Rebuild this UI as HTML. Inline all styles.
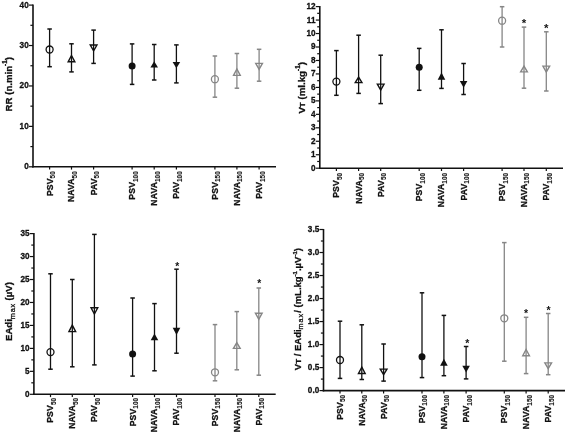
<!DOCTYPE html>
<html><head><meta charset="utf-8"><style>
html,body{margin:0;padding:0;background:#fff;width:567px;height:434px;overflow:hidden;}
svg{display:block;will-change:transform;filter:blur(0.3px);}
text{stroke:#111;stroke-width:0.3px;}
</style></head><body>
<svg width="567" height="434" viewBox="0 0 567 434" font-family='"Liberation Sans", sans-serif' fill="#111">
<rect width="567" height="434" fill="#fff"/>
<line x1="33.00" y1="4.60" x2="33.00" y2="167.60" stroke="#111" stroke-width="1.6"/>
<line x1="32.20" y1="166.80" x2="276.00" y2="166.80" stroke="#111" stroke-width="1.6"/>
<line x1="29.00" y1="166.80" x2="33.00" y2="166.80" stroke="#111" stroke-width="1.2"/>
<line x1="29.00" y1="126.38" x2="33.00" y2="126.38" stroke="#111" stroke-width="1.2"/>
<line x1="29.00" y1="85.95" x2="33.00" y2="85.95" stroke="#111" stroke-width="1.2"/>
<line x1="29.00" y1="45.53" x2="33.00" y2="45.53" stroke="#111" stroke-width="1.2"/>
<line x1="29.00" y1="5.10" x2="33.00" y2="5.10" stroke="#111" stroke-width="1.2"/>
<line x1="30.40" y1="146.59" x2="33.00" y2="146.59" stroke="#111" stroke-width="1.2"/>
<line x1="30.40" y1="106.16" x2="33.00" y2="106.16" stroke="#111" stroke-width="1.2"/>
<line x1="30.40" y1="65.74" x2="33.00" y2="65.74" stroke="#111" stroke-width="1.2"/>
<line x1="30.40" y1="25.31" x2="33.00" y2="25.31" stroke="#111" stroke-width="1.2"/>
<line x1="49.60" y1="166.80" x2="49.60" y2="169.60" stroke="#111" stroke-width="1.2"/>
<line x1="71.50" y1="166.80" x2="71.50" y2="169.60" stroke="#111" stroke-width="1.2"/>
<line x1="93.60" y1="166.80" x2="93.60" y2="169.60" stroke="#111" stroke-width="1.2"/>
<line x1="132.10" y1="166.80" x2="132.10" y2="169.60" stroke="#111" stroke-width="1.2"/>
<line x1="154.20" y1="166.80" x2="154.20" y2="169.60" stroke="#111" stroke-width="1.2"/>
<line x1="176.40" y1="166.80" x2="176.40" y2="169.60" stroke="#111" stroke-width="1.2"/>
<line x1="214.90" y1="166.80" x2="214.90" y2="169.60" stroke="#111" stroke-width="1.2"/>
<line x1="236.90" y1="166.80" x2="236.90" y2="169.60" stroke="#111" stroke-width="1.2"/>
<line x1="259.10" y1="166.80" x2="259.10" y2="169.60" stroke="#111" stroke-width="1.2"/>
<text transform="translate(28.70,169.25) scale(0.94,1)" text-anchor="end" font-size="8.7" font-weight="bold">0</text>
<text transform="translate(28.70,128.82) scale(0.94,1)" text-anchor="end" font-size="8.7" font-weight="bold">10</text>
<text transform="translate(28.70,88.40) scale(0.94,1)" text-anchor="end" font-size="8.7" font-weight="bold">20</text>
<text transform="translate(28.70,47.98) scale(0.94,1)" text-anchor="end" font-size="8.7" font-weight="bold">30</text>
<text transform="translate(28.70,7.55) scale(0.94,1)" text-anchor="end" font-size="8.7" font-weight="bold">40</text>
<line x1="49.60" y1="29.00" x2="49.60" y2="66.70" stroke="#111" stroke-width="1.3"/>
<line x1="47.35" y1="29.00" x2="51.85" y2="29.00" stroke="#111" stroke-width="1.5"/>
<line x1="47.35" y1="66.70" x2="51.85" y2="66.70" stroke="#111" stroke-width="1.5"/>
<circle cx="49.60" cy="49.50" r="3.5" fill="none" stroke="#111" stroke-width="1.3"/>
<line x1="71.50" y1="43.80" x2="71.50" y2="71.90" stroke="#111" stroke-width="1.3"/>
<line x1="69.25" y1="43.80" x2="73.75" y2="43.80" stroke="#111" stroke-width="1.5"/>
<line x1="69.25" y1="71.90" x2="73.75" y2="71.90" stroke="#111" stroke-width="1.5"/>
<path d="M71.50,55.50 L74.85,61.80 L68.15,61.80 Z" fill="none" stroke="#111" stroke-width="1.4"/>
<line x1="93.60" y1="30.10" x2="93.60" y2="63.40" stroke="#111" stroke-width="1.3"/>
<line x1="91.35" y1="30.10" x2="95.85" y2="30.10" stroke="#111" stroke-width="1.5"/>
<line x1="91.35" y1="63.40" x2="95.85" y2="63.40" stroke="#111" stroke-width="1.5"/>
<path d="M90.25,45.00 L96.95,45.00 L93.60,50.80 Z" fill="none" stroke="#111" stroke-width="1.4"/>
<line x1="132.10" y1="43.90" x2="132.10" y2="84.40" stroke="#111" stroke-width="1.3"/>
<line x1="129.85" y1="43.90" x2="134.35" y2="43.90" stroke="#111" stroke-width="1.5"/>
<line x1="129.85" y1="84.40" x2="134.35" y2="84.40" stroke="#111" stroke-width="1.5"/>
<circle cx="132.10" cy="66.00" r="3.5" fill="#111"/>
<line x1="154.20" y1="44.50" x2="154.20" y2="80.00" stroke="#111" stroke-width="1.3"/>
<line x1="151.95" y1="44.50" x2="156.45" y2="44.50" stroke="#111" stroke-width="1.5"/>
<line x1="151.95" y1="80.00" x2="156.45" y2="80.00" stroke="#111" stroke-width="1.5"/>
<path d="M154.20,61.20 L158.00,67.50 L150.40,67.50 Z" fill="#111"/>
<line x1="176.40" y1="44.90" x2="176.40" y2="82.90" stroke="#111" stroke-width="1.3"/>
<line x1="174.15" y1="44.90" x2="178.65" y2="44.90" stroke="#111" stroke-width="1.5"/>
<line x1="174.15" y1="82.90" x2="178.65" y2="82.90" stroke="#111" stroke-width="1.5"/>
<path d="M172.60,62.00 L180.20,62.00 L176.40,68.30 Z" fill="#111"/>
<line x1="214.90" y1="56.00" x2="214.90" y2="97.20" stroke="#868686" stroke-width="1.3"/>
<line x1="212.65" y1="56.00" x2="217.15" y2="56.00" stroke="#868686" stroke-width="1.5"/>
<line x1="212.65" y1="97.20" x2="217.15" y2="97.20" stroke="#868686" stroke-width="1.5"/>
<circle cx="214.90" cy="79.20" r="3.5" fill="none" stroke="#868686" stroke-width="1.3"/>
<line x1="236.90" y1="53.50" x2="236.90" y2="88.20" stroke="#868686" stroke-width="1.3"/>
<line x1="234.65" y1="53.50" x2="239.15" y2="53.50" stroke="#868686" stroke-width="1.5"/>
<line x1="234.65" y1="88.20" x2="239.15" y2="88.20" stroke="#868686" stroke-width="1.5"/>
<path d="M236.90,69.00 L240.25,75.40 L233.55,75.40 Z" fill="none" stroke="#868686" stroke-width="1.4"/>
<line x1="259.10" y1="49.30" x2="259.10" y2="81.20" stroke="#868686" stroke-width="1.3"/>
<line x1="256.85" y1="49.30" x2="261.35" y2="49.30" stroke="#868686" stroke-width="1.5"/>
<line x1="256.85" y1="81.20" x2="261.35" y2="81.20" stroke="#868686" stroke-width="1.5"/>
<path d="M255.75,63.40 L262.45,63.40 L259.10,69.40 Z" fill="none" stroke="#868686" stroke-width="1.4"/>
<text transform="translate(52.50,171.30) rotate(-90)" text-anchor="end" font-size="8.6" font-weight="bold" stroke="#111" stroke-width="0.3" letter-spacing="0.15">PSV<tspan font-size="6.4" dy="2.5" letter-spacing="0" style="stroke-width:0.1px">50</tspan></text>
<text transform="translate(74.40,171.30) rotate(-90)" text-anchor="end" font-size="8.6" font-weight="bold" stroke="#111" stroke-width="0.3" letter-spacing="0.15">NAVA<tspan font-size="6.4" dy="2.5" letter-spacing="0" style="stroke-width:0.1px">50</tspan></text>
<text transform="translate(96.50,171.30) rotate(-90)" text-anchor="end" font-size="8.6" font-weight="bold" stroke="#111" stroke-width="0.3" letter-spacing="0.15">PAV<tspan font-size="6.4" dy="2.5" letter-spacing="0" style="stroke-width:0.1px">50</tspan></text>
<text transform="translate(135.00,171.30) rotate(-90)" text-anchor="end" font-size="8.6" font-weight="bold" stroke="#111" stroke-width="0.3" letter-spacing="0.15">PSV<tspan font-size="6.4" dy="2.5" letter-spacing="0" style="stroke-width:0.1px">100</tspan></text>
<text transform="translate(157.10,171.30) rotate(-90)" text-anchor="end" font-size="8.6" font-weight="bold" stroke="#111" stroke-width="0.3" letter-spacing="0.15">NAVA<tspan font-size="6.4" dy="2.5" letter-spacing="0" style="stroke-width:0.1px">100</tspan></text>
<text transform="translate(179.30,171.30) rotate(-90)" text-anchor="end" font-size="8.6" font-weight="bold" stroke="#111" stroke-width="0.3" letter-spacing="0.15">PAV<tspan font-size="6.4" dy="2.5" letter-spacing="0" style="stroke-width:0.1px">100</tspan></text>
<text transform="translate(217.80,171.30) rotate(-90)" text-anchor="end" font-size="8.6" font-weight="bold" stroke="#111" stroke-width="0.3" letter-spacing="0.15">PSV<tspan font-size="6.4" dy="2.5" letter-spacing="0" style="stroke-width:0.1px">150</tspan></text>
<text transform="translate(239.80,171.30) rotate(-90)" text-anchor="end" font-size="8.6" font-weight="bold" stroke="#111" stroke-width="0.3" letter-spacing="0.15">NAVA<tspan font-size="6.4" dy="2.5" letter-spacing="0" style="stroke-width:0.1px">150</tspan></text>
<text transform="translate(262.00,171.30) rotate(-90)" text-anchor="end" font-size="8.6" font-weight="bold" stroke="#111" stroke-width="0.3" letter-spacing="0.15">PAV<tspan font-size="6.4" dy="2.5" letter-spacing="0" style="stroke-width:0.1px">150</tspan></text>
<line x1="319.80" y1="6.10" x2="319.80" y2="169.00" stroke="#111" stroke-width="1.6"/>
<line x1="319.00" y1="168.20" x2="563.00" y2="168.20" stroke="#111" stroke-width="1.6"/>
<line x1="315.80" y1="168.20" x2="319.80" y2="168.20" stroke="#111" stroke-width="1.2"/>
<line x1="315.80" y1="154.73" x2="319.80" y2="154.73" stroke="#111" stroke-width="1.2"/>
<line x1="315.80" y1="141.27" x2="319.80" y2="141.27" stroke="#111" stroke-width="1.2"/>
<line x1="315.80" y1="127.80" x2="319.80" y2="127.80" stroke="#111" stroke-width="1.2"/>
<line x1="315.80" y1="114.33" x2="319.80" y2="114.33" stroke="#111" stroke-width="1.2"/>
<line x1="315.80" y1="100.87" x2="319.80" y2="100.87" stroke="#111" stroke-width="1.2"/>
<line x1="315.80" y1="87.40" x2="319.80" y2="87.40" stroke="#111" stroke-width="1.2"/>
<line x1="315.80" y1="73.93" x2="319.80" y2="73.93" stroke="#111" stroke-width="1.2"/>
<line x1="315.80" y1="60.47" x2="319.80" y2="60.47" stroke="#111" stroke-width="1.2"/>
<line x1="315.80" y1="47.00" x2="319.80" y2="47.00" stroke="#111" stroke-width="1.2"/>
<line x1="315.80" y1="33.53" x2="319.80" y2="33.53" stroke="#111" stroke-width="1.2"/>
<line x1="315.80" y1="20.07" x2="319.80" y2="20.07" stroke="#111" stroke-width="1.2"/>
<line x1="315.80" y1="6.60" x2="319.80" y2="6.60" stroke="#111" stroke-width="1.2"/>
<line x1="317.20" y1="161.47" x2="319.80" y2="161.47" stroke="#111" stroke-width="1.2"/>
<line x1="317.20" y1="148.00" x2="319.80" y2="148.00" stroke="#111" stroke-width="1.2"/>
<line x1="317.20" y1="134.53" x2="319.80" y2="134.53" stroke="#111" stroke-width="1.2"/>
<line x1="317.20" y1="121.07" x2="319.80" y2="121.07" stroke="#111" stroke-width="1.2"/>
<line x1="317.20" y1="107.60" x2="319.80" y2="107.60" stroke="#111" stroke-width="1.2"/>
<line x1="317.20" y1="94.13" x2="319.80" y2="94.13" stroke="#111" stroke-width="1.2"/>
<line x1="317.20" y1="80.67" x2="319.80" y2="80.67" stroke="#111" stroke-width="1.2"/>
<line x1="317.20" y1="67.20" x2="319.80" y2="67.20" stroke="#111" stroke-width="1.2"/>
<line x1="317.20" y1="53.73" x2="319.80" y2="53.73" stroke="#111" stroke-width="1.2"/>
<line x1="317.20" y1="40.27" x2="319.80" y2="40.27" stroke="#111" stroke-width="1.2"/>
<line x1="317.20" y1="26.80" x2="319.80" y2="26.80" stroke="#111" stroke-width="1.2"/>
<line x1="317.20" y1="13.33" x2="319.80" y2="13.33" stroke="#111" stroke-width="1.2"/>
<line x1="336.40" y1="168.20" x2="336.40" y2="171.00" stroke="#111" stroke-width="1.2"/>
<line x1="358.60" y1="168.20" x2="358.60" y2="171.00" stroke="#111" stroke-width="1.2"/>
<line x1="380.70" y1="168.20" x2="380.70" y2="171.00" stroke="#111" stroke-width="1.2"/>
<line x1="419.20" y1="168.20" x2="419.20" y2="171.00" stroke="#111" stroke-width="1.2"/>
<line x1="441.50" y1="168.20" x2="441.50" y2="171.00" stroke="#111" stroke-width="1.2"/>
<line x1="463.60" y1="168.20" x2="463.60" y2="171.00" stroke="#111" stroke-width="1.2"/>
<line x1="502.10" y1="168.20" x2="502.10" y2="171.00" stroke="#111" stroke-width="1.2"/>
<line x1="524.00" y1="168.20" x2="524.00" y2="171.00" stroke="#111" stroke-width="1.2"/>
<line x1="546.30" y1="168.20" x2="546.30" y2="171.00" stroke="#111" stroke-width="1.2"/>
<text transform="translate(315.50,170.65) scale(0.94,1)" text-anchor="end" font-size="8.7" font-weight="bold">0</text>
<text transform="translate(315.50,157.18) scale(0.94,1)" text-anchor="end" font-size="8.7" font-weight="bold">1</text>
<text transform="translate(315.50,143.72) scale(0.94,1)" text-anchor="end" font-size="8.7" font-weight="bold">2</text>
<text transform="translate(315.50,130.25) scale(0.94,1)" text-anchor="end" font-size="8.7" font-weight="bold">3</text>
<text transform="translate(315.50,116.78) scale(0.94,1)" text-anchor="end" font-size="8.7" font-weight="bold">4</text>
<text transform="translate(315.50,103.32) scale(0.94,1)" text-anchor="end" font-size="8.7" font-weight="bold">5</text>
<text transform="translate(315.50,89.85) scale(0.94,1)" text-anchor="end" font-size="8.7" font-weight="bold">6</text>
<text transform="translate(315.50,76.38) scale(0.94,1)" text-anchor="end" font-size="8.7" font-weight="bold">7</text>
<text transform="translate(315.50,62.92) scale(0.94,1)" text-anchor="end" font-size="8.7" font-weight="bold">8</text>
<text transform="translate(315.50,49.45) scale(0.94,1)" text-anchor="end" font-size="8.7" font-weight="bold">9</text>
<text transform="translate(315.50,35.98) scale(0.94,1)" text-anchor="end" font-size="8.7" font-weight="bold">10</text>
<text transform="translate(315.50,22.52) scale(0.94,1)" text-anchor="end" font-size="8.7" font-weight="bold">11</text>
<text transform="translate(315.50,9.05) scale(0.94,1)" text-anchor="end" font-size="8.7" font-weight="bold">12</text>
<line x1="336.40" y1="50.60" x2="336.40" y2="95.30" stroke="#111" stroke-width="1.3"/>
<line x1="334.15" y1="50.60" x2="338.65" y2="50.60" stroke="#111" stroke-width="1.5"/>
<line x1="334.15" y1="95.30" x2="338.65" y2="95.30" stroke="#111" stroke-width="1.5"/>
<circle cx="336.40" cy="81.60" r="3.5" fill="none" stroke="#111" stroke-width="1.3"/>
<line x1="358.60" y1="35.20" x2="358.60" y2="93.40" stroke="#111" stroke-width="1.3"/>
<line x1="356.35" y1="35.20" x2="360.85" y2="35.20" stroke="#111" stroke-width="1.5"/>
<line x1="356.35" y1="93.40" x2="360.85" y2="93.40" stroke="#111" stroke-width="1.5"/>
<path d="M358.60,77.10 L361.95,82.60 L355.25,82.60 Z" fill="none" stroke="#111" stroke-width="1.4"/>
<line x1="380.70" y1="55.20" x2="380.70" y2="103.60" stroke="#111" stroke-width="1.3"/>
<line x1="378.45" y1="55.20" x2="382.95" y2="55.20" stroke="#111" stroke-width="1.5"/>
<line x1="378.45" y1="103.60" x2="382.95" y2="103.60" stroke="#111" stroke-width="1.5"/>
<path d="M377.35,84.10 L384.05,84.10 L380.70,90.10 Z" fill="none" stroke="#111" stroke-width="1.4"/>
<line x1="419.20" y1="48.40" x2="419.20" y2="90.30" stroke="#111" stroke-width="1.3"/>
<line x1="416.95" y1="48.40" x2="421.45" y2="48.40" stroke="#111" stroke-width="1.5"/>
<line x1="416.95" y1="90.30" x2="421.45" y2="90.30" stroke="#111" stroke-width="1.5"/>
<circle cx="419.20" cy="67.30" r="3.5" fill="#111"/>
<line x1="441.50" y1="29.80" x2="441.50" y2="88.40" stroke="#111" stroke-width="1.3"/>
<line x1="439.25" y1="29.80" x2="443.75" y2="29.80" stroke="#111" stroke-width="1.5"/>
<line x1="439.25" y1="88.40" x2="443.75" y2="88.40" stroke="#111" stroke-width="1.5"/>
<path d="M441.50,72.40 L445.30,79.70 L437.70,79.70 Z" fill="#111"/>
<line x1="463.60" y1="63.50" x2="463.60" y2="94.50" stroke="#111" stroke-width="1.3"/>
<line x1="461.35" y1="63.50" x2="465.85" y2="63.50" stroke="#111" stroke-width="1.5"/>
<line x1="461.35" y1="94.50" x2="465.85" y2="94.50" stroke="#111" stroke-width="1.5"/>
<path d="M459.80,80.90 L467.40,80.90 L463.60,87.70 Z" fill="#111"/>
<line x1="502.10" y1="6.70" x2="502.10" y2="47.00" stroke="#868686" stroke-width="1.3"/>
<line x1="499.85" y1="6.70" x2="504.35" y2="6.70" stroke="#868686" stroke-width="1.5"/>
<line x1="499.85" y1="47.00" x2="504.35" y2="47.00" stroke="#868686" stroke-width="1.5"/>
<circle cx="502.10" cy="20.70" r="3.5" fill="none" stroke="#868686" stroke-width="1.3"/>
<line x1="524.00" y1="27.10" x2="524.00" y2="88.20" stroke="#868686" stroke-width="1.3"/>
<line x1="521.75" y1="27.10" x2="526.25" y2="27.10" stroke="#868686" stroke-width="1.5"/>
<line x1="521.75" y1="88.20" x2="526.25" y2="88.20" stroke="#868686" stroke-width="1.5"/>
<path d="M524.00,66.10 L527.35,71.90 L520.65,71.90 Z" fill="none" stroke="#868686" stroke-width="1.4"/>
<line x1="546.30" y1="31.80" x2="546.30" y2="91.00" stroke="#868686" stroke-width="1.3"/>
<line x1="544.05" y1="31.80" x2="548.55" y2="31.80" stroke="#868686" stroke-width="1.5"/>
<line x1="544.05" y1="91.00" x2="548.55" y2="91.00" stroke="#868686" stroke-width="1.5"/>
<path d="M542.95,66.10 L549.65,66.10 L546.30,72.00 Z" fill="none" stroke="#868686" stroke-width="1.4"/>
<text x="524.06" y="27.43" text-anchor="middle" font-size="11.5" font-weight="bold" style="stroke:none">*</text>
<text x="546.16" y="32.13" text-anchor="middle" font-size="11.5" font-weight="bold" style="stroke:none">*</text>
<text transform="translate(339.30,173.00) rotate(-90)" text-anchor="end" font-size="8.6" font-weight="bold" stroke="#111" stroke-width="0.3" letter-spacing="0.15">PSV<tspan font-size="6.4" dy="2.5" letter-spacing="0" style="stroke-width:0.1px">50</tspan></text>
<text transform="translate(361.50,173.00) rotate(-90)" text-anchor="end" font-size="8.6" font-weight="bold" stroke="#111" stroke-width="0.3" letter-spacing="0.15">NAVA<tspan font-size="6.4" dy="2.5" letter-spacing="0" style="stroke-width:0.1px">50</tspan></text>
<text transform="translate(383.60,173.00) rotate(-90)" text-anchor="end" font-size="8.6" font-weight="bold" stroke="#111" stroke-width="0.3" letter-spacing="0.15">PAV<tspan font-size="6.4" dy="2.5" letter-spacing="0" style="stroke-width:0.1px">50</tspan></text>
<text transform="translate(422.10,173.00) rotate(-90)" text-anchor="end" font-size="8.6" font-weight="bold" stroke="#111" stroke-width="0.3" letter-spacing="0.15">PSV<tspan font-size="6.4" dy="2.5" letter-spacing="0" style="stroke-width:0.1px">100</tspan></text>
<text transform="translate(444.40,173.00) rotate(-90)" text-anchor="end" font-size="8.6" font-weight="bold" stroke="#111" stroke-width="0.3" letter-spacing="0.15">NAVA<tspan font-size="6.4" dy="2.5" letter-spacing="0" style="stroke-width:0.1px">100</tspan></text>
<text transform="translate(466.50,173.00) rotate(-90)" text-anchor="end" font-size="8.6" font-weight="bold" stroke="#111" stroke-width="0.3" letter-spacing="0.15">PAV<tspan font-size="6.4" dy="2.5" letter-spacing="0" style="stroke-width:0.1px">100</tspan></text>
<text transform="translate(505.00,173.00) rotate(-90)" text-anchor="end" font-size="8.6" font-weight="bold" stroke="#111" stroke-width="0.3" letter-spacing="0.15">PSV<tspan font-size="6.4" dy="2.5" letter-spacing="0" style="stroke-width:0.1px">150</tspan></text>
<text transform="translate(526.90,173.00) rotate(-90)" text-anchor="end" font-size="8.6" font-weight="bold" stroke="#111" stroke-width="0.3" letter-spacing="0.15">NAVA<tspan font-size="6.4" dy="2.5" letter-spacing="0" style="stroke-width:0.1px">150</tspan></text>
<text transform="translate(549.20,173.00) rotate(-90)" text-anchor="end" font-size="8.6" font-weight="bold" stroke="#111" stroke-width="0.3" letter-spacing="0.15">PAV<tspan font-size="6.4" dy="2.5" letter-spacing="0" style="stroke-width:0.1px">150</tspan></text>
<line x1="33.90" y1="233.10" x2="33.90" y2="395.10" stroke="#111" stroke-width="1.6"/>
<line x1="33.10" y1="394.30" x2="275.70" y2="394.30" stroke="#111" stroke-width="1.6"/>
<line x1="29.90" y1="394.30" x2="33.90" y2="394.30" stroke="#111" stroke-width="1.2"/>
<line x1="29.90" y1="371.34" x2="33.90" y2="371.34" stroke="#111" stroke-width="1.2"/>
<line x1="29.90" y1="348.39" x2="33.90" y2="348.39" stroke="#111" stroke-width="1.2"/>
<line x1="29.90" y1="325.43" x2="33.90" y2="325.43" stroke="#111" stroke-width="1.2"/>
<line x1="29.90" y1="302.47" x2="33.90" y2="302.47" stroke="#111" stroke-width="1.2"/>
<line x1="29.90" y1="279.51" x2="33.90" y2="279.51" stroke="#111" stroke-width="1.2"/>
<line x1="29.90" y1="256.56" x2="33.90" y2="256.56" stroke="#111" stroke-width="1.2"/>
<line x1="29.90" y1="233.60" x2="33.90" y2="233.60" stroke="#111" stroke-width="1.2"/>
<line x1="31.30" y1="382.82" x2="33.90" y2="382.82" stroke="#111" stroke-width="1.2"/>
<line x1="31.30" y1="359.86" x2="33.90" y2="359.86" stroke="#111" stroke-width="1.2"/>
<line x1="31.30" y1="336.91" x2="33.90" y2="336.91" stroke="#111" stroke-width="1.2"/>
<line x1="31.30" y1="313.95" x2="33.90" y2="313.95" stroke="#111" stroke-width="1.2"/>
<line x1="31.30" y1="290.99" x2="33.90" y2="290.99" stroke="#111" stroke-width="1.2"/>
<line x1="31.30" y1="268.04" x2="33.90" y2="268.04" stroke="#111" stroke-width="1.2"/>
<line x1="31.30" y1="245.08" x2="33.90" y2="245.08" stroke="#111" stroke-width="1.2"/>
<line x1="50.50" y1="394.30" x2="50.50" y2="397.10" stroke="#111" stroke-width="1.2"/>
<line x1="72.30" y1="394.30" x2="72.30" y2="397.10" stroke="#111" stroke-width="1.2"/>
<line x1="94.40" y1="394.30" x2="94.40" y2="397.10" stroke="#111" stroke-width="1.2"/>
<line x1="132.60" y1="394.30" x2="132.60" y2="397.10" stroke="#111" stroke-width="1.2"/>
<line x1="154.50" y1="394.30" x2="154.50" y2="397.10" stroke="#111" stroke-width="1.2"/>
<line x1="176.50" y1="394.30" x2="176.50" y2="397.10" stroke="#111" stroke-width="1.2"/>
<line x1="215.00" y1="394.30" x2="215.00" y2="397.10" stroke="#111" stroke-width="1.2"/>
<line x1="236.80" y1="394.30" x2="236.80" y2="397.10" stroke="#111" stroke-width="1.2"/>
<line x1="258.80" y1="394.30" x2="258.80" y2="397.10" stroke="#111" stroke-width="1.2"/>
<text transform="translate(29.60,396.75) scale(0.94,1)" text-anchor="end" font-size="8.7" font-weight="bold">0</text>
<text transform="translate(29.60,373.79) scale(0.94,1)" text-anchor="end" font-size="8.7" font-weight="bold">5</text>
<text transform="translate(29.60,350.84) scale(0.94,1)" text-anchor="end" font-size="8.7" font-weight="bold">10</text>
<text transform="translate(29.60,327.88) scale(0.94,1)" text-anchor="end" font-size="8.7" font-weight="bold">15</text>
<text transform="translate(29.60,304.92) scale(0.94,1)" text-anchor="end" font-size="8.7" font-weight="bold">20</text>
<text transform="translate(29.60,281.96) scale(0.94,1)" text-anchor="end" font-size="8.7" font-weight="bold">25</text>
<text transform="translate(29.60,259.01) scale(0.94,1)" text-anchor="end" font-size="8.7" font-weight="bold">30</text>
<text transform="translate(29.60,236.05) scale(0.94,1)" text-anchor="end" font-size="8.7" font-weight="bold">35</text>
<line x1="50.50" y1="273.80" x2="50.50" y2="369.20" stroke="#111" stroke-width="1.3"/>
<line x1="48.25" y1="273.80" x2="52.75" y2="273.80" stroke="#111" stroke-width="1.5"/>
<line x1="48.25" y1="369.20" x2="52.75" y2="369.20" stroke="#111" stroke-width="1.5"/>
<circle cx="50.50" cy="352.10" r="3.5" fill="none" stroke="#111" stroke-width="1.3"/>
<line x1="72.30" y1="279.50" x2="72.30" y2="366.80" stroke="#111" stroke-width="1.3"/>
<line x1="70.05" y1="279.50" x2="74.55" y2="279.50" stroke="#111" stroke-width="1.5"/>
<line x1="70.05" y1="366.80" x2="74.55" y2="366.80" stroke="#111" stroke-width="1.5"/>
<path d="M72.30,325.10 L75.65,331.60 L68.95,331.60 Z" fill="none" stroke="#111" stroke-width="1.4"/>
<line x1="94.40" y1="234.40" x2="94.40" y2="364.90" stroke="#111" stroke-width="1.3"/>
<line x1="92.15" y1="234.40" x2="96.65" y2="234.40" stroke="#111" stroke-width="1.5"/>
<line x1="92.15" y1="364.90" x2="96.65" y2="364.90" stroke="#111" stroke-width="1.5"/>
<path d="M91.05,307.80 L97.75,307.80 L94.40,314.00 Z" fill="none" stroke="#111" stroke-width="1.4"/>
<line x1="132.60" y1="298.00" x2="132.60" y2="376.10" stroke="#111" stroke-width="1.3"/>
<line x1="130.35" y1="298.00" x2="134.85" y2="298.00" stroke="#111" stroke-width="1.5"/>
<line x1="130.35" y1="376.10" x2="134.85" y2="376.10" stroke="#111" stroke-width="1.5"/>
<circle cx="132.60" cy="354.00" r="3.5" fill="#111"/>
<line x1="154.50" y1="303.60" x2="154.50" y2="370.80" stroke="#111" stroke-width="1.3"/>
<line x1="152.25" y1="303.60" x2="156.75" y2="303.60" stroke="#111" stroke-width="1.5"/>
<line x1="152.25" y1="370.80" x2="156.75" y2="370.80" stroke="#111" stroke-width="1.5"/>
<path d="M154.50,333.40 L158.30,340.20 L150.70,340.20 Z" fill="#111"/>
<line x1="176.50" y1="269.20" x2="176.50" y2="353.20" stroke="#111" stroke-width="1.3"/>
<line x1="174.25" y1="269.20" x2="178.75" y2="269.20" stroke="#111" stroke-width="1.5"/>
<line x1="174.25" y1="353.20" x2="178.75" y2="353.20" stroke="#111" stroke-width="1.5"/>
<path d="M172.70,327.80 L180.30,327.80 L176.50,335.00 Z" fill="#111"/>
<line x1="215.00" y1="324.60" x2="215.00" y2="380.80" stroke="#868686" stroke-width="1.3"/>
<line x1="212.75" y1="324.60" x2="217.25" y2="324.60" stroke="#868686" stroke-width="1.5"/>
<line x1="212.75" y1="380.80" x2="217.25" y2="380.80" stroke="#868686" stroke-width="1.5"/>
<circle cx="215.00" cy="372.30" r="3.5" fill="none" stroke="#868686" stroke-width="1.3"/>
<line x1="236.80" y1="311.60" x2="236.80" y2="369.80" stroke="#868686" stroke-width="1.3"/>
<line x1="234.55" y1="311.60" x2="239.05" y2="311.60" stroke="#868686" stroke-width="1.5"/>
<line x1="234.55" y1="369.80" x2="239.05" y2="369.80" stroke="#868686" stroke-width="1.5"/>
<path d="M236.80,342.60 L240.15,348.40 L233.45,348.40 Z" fill="none" stroke="#868686" stroke-width="1.4"/>
<line x1="258.80" y1="288.00" x2="258.80" y2="375.20" stroke="#868686" stroke-width="1.3"/>
<line x1="256.55" y1="288.00" x2="261.05" y2="288.00" stroke="#868686" stroke-width="1.5"/>
<line x1="256.55" y1="375.20" x2="261.05" y2="375.20" stroke="#868686" stroke-width="1.5"/>
<path d="M255.45,313.20 L262.15,313.20 L258.80,319.40 Z" fill="none" stroke="#868686" stroke-width="1.4"/>
<text x="177.16" y="270.20" text-anchor="middle" font-size="10.3" font-weight="bold" style="stroke:none">*</text>
<text x="259.16" y="286.80" text-anchor="middle" font-size="10.3" font-weight="bold" style="stroke:none">*</text>
<text transform="translate(53.40,398.00) rotate(-90)" text-anchor="end" font-size="8.6" font-weight="bold" stroke="#111" stroke-width="0.3" letter-spacing="0.15">PSV<tspan font-size="6.4" dy="2.5" letter-spacing="0" style="stroke-width:0.1px">50</tspan></text>
<text transform="translate(75.20,398.00) rotate(-90)" text-anchor="end" font-size="8.6" font-weight="bold" stroke="#111" stroke-width="0.3" letter-spacing="0.15">NAVA<tspan font-size="6.4" dy="2.5" letter-spacing="0" style="stroke-width:0.1px">50</tspan></text>
<text transform="translate(97.30,398.00) rotate(-90)" text-anchor="end" font-size="8.6" font-weight="bold" stroke="#111" stroke-width="0.3" letter-spacing="0.15">PAV<tspan font-size="6.4" dy="2.5" letter-spacing="0" style="stroke-width:0.1px">50</tspan></text>
<text transform="translate(135.50,398.00) rotate(-90)" text-anchor="end" font-size="8.6" font-weight="bold" stroke="#111" stroke-width="0.3" letter-spacing="0.15">PSV<tspan font-size="6.4" dy="2.5" letter-spacing="0" style="stroke-width:0.1px">100</tspan></text>
<text transform="translate(157.40,398.00) rotate(-90)" text-anchor="end" font-size="8.6" font-weight="bold" stroke="#111" stroke-width="0.3" letter-spacing="0.15">NAVA<tspan font-size="6.4" dy="2.5" letter-spacing="0" style="stroke-width:0.1px">100</tspan></text>
<text transform="translate(179.40,398.00) rotate(-90)" text-anchor="end" font-size="8.6" font-weight="bold" stroke="#111" stroke-width="0.3" letter-spacing="0.15">PAV<tspan font-size="6.4" dy="2.5" letter-spacing="0" style="stroke-width:0.1px">100</tspan></text>
<text transform="translate(217.90,398.00) rotate(-90)" text-anchor="end" font-size="8.6" font-weight="bold" stroke="#111" stroke-width="0.3" letter-spacing="0.15">PSV<tspan font-size="6.4" dy="2.5" letter-spacing="0" style="stroke-width:0.1px">150</tspan></text>
<text transform="translate(239.70,398.00) rotate(-90)" text-anchor="end" font-size="8.6" font-weight="bold" stroke="#111" stroke-width="0.3" letter-spacing="0.15">NAVA<tspan font-size="6.4" dy="2.5" letter-spacing="0" style="stroke-width:0.1px">150</tspan></text>
<text transform="translate(261.70,398.00) rotate(-90)" text-anchor="end" font-size="8.6" font-weight="bold" stroke="#111" stroke-width="0.3" letter-spacing="0.15">PAV<tspan font-size="6.4" dy="2.5" letter-spacing="0" style="stroke-width:0.1px">150</tspan></text>
<line x1="323.50" y1="229.00" x2="323.50" y2="391.40" stroke="#111" stroke-width="1.6"/>
<line x1="322.70" y1="390.60" x2="565.00" y2="390.60" stroke="#111" stroke-width="1.6"/>
<line x1="319.50" y1="390.60" x2="323.50" y2="390.60" stroke="#111" stroke-width="1.2"/>
<line x1="319.50" y1="367.59" x2="323.50" y2="367.59" stroke="#111" stroke-width="1.2"/>
<line x1="319.50" y1="344.57" x2="323.50" y2="344.57" stroke="#111" stroke-width="1.2"/>
<line x1="319.50" y1="321.56" x2="323.50" y2="321.56" stroke="#111" stroke-width="1.2"/>
<line x1="319.50" y1="298.54" x2="323.50" y2="298.54" stroke="#111" stroke-width="1.2"/>
<line x1="319.50" y1="275.53" x2="323.50" y2="275.53" stroke="#111" stroke-width="1.2"/>
<line x1="319.50" y1="252.51" x2="323.50" y2="252.51" stroke="#111" stroke-width="1.2"/>
<line x1="319.50" y1="229.50" x2="323.50" y2="229.50" stroke="#111" stroke-width="1.2"/>
<line x1="320.90" y1="379.09" x2="323.50" y2="379.09" stroke="#111" stroke-width="1.2"/>
<line x1="320.90" y1="356.08" x2="323.50" y2="356.08" stroke="#111" stroke-width="1.2"/>
<line x1="320.90" y1="333.06" x2="323.50" y2="333.06" stroke="#111" stroke-width="1.2"/>
<line x1="320.90" y1="310.05" x2="323.50" y2="310.05" stroke="#111" stroke-width="1.2"/>
<line x1="320.90" y1="287.04" x2="323.50" y2="287.04" stroke="#111" stroke-width="1.2"/>
<line x1="320.90" y1="264.02" x2="323.50" y2="264.02" stroke="#111" stroke-width="1.2"/>
<line x1="320.90" y1="241.01" x2="323.50" y2="241.01" stroke="#111" stroke-width="1.2"/>
<line x1="340.00" y1="390.60" x2="340.00" y2="393.40" stroke="#111" stroke-width="1.2"/>
<line x1="361.80" y1="390.60" x2="361.80" y2="393.40" stroke="#111" stroke-width="1.2"/>
<line x1="383.60" y1="390.60" x2="383.60" y2="393.40" stroke="#111" stroke-width="1.2"/>
<line x1="422.00" y1="390.60" x2="422.00" y2="393.40" stroke="#111" stroke-width="1.2"/>
<line x1="443.90" y1="390.60" x2="443.90" y2="393.40" stroke="#111" stroke-width="1.2"/>
<line x1="466.10" y1="390.60" x2="466.10" y2="393.40" stroke="#111" stroke-width="1.2"/>
<line x1="504.30" y1="390.60" x2="504.30" y2="393.40" stroke="#111" stroke-width="1.2"/>
<line x1="526.10" y1="390.60" x2="526.10" y2="393.40" stroke="#111" stroke-width="1.2"/>
<line x1="548.20" y1="390.60" x2="548.20" y2="393.40" stroke="#111" stroke-width="1.2"/>
<text transform="translate(319.20,393.05) scale(0.94,1)" text-anchor="end" font-size="8.7" font-weight="bold">0.0</text>
<text transform="translate(319.20,370.04) scale(0.94,1)" text-anchor="end" font-size="8.7" font-weight="bold">0.5</text>
<text transform="translate(319.20,347.02) scale(0.94,1)" text-anchor="end" font-size="8.7" font-weight="bold">1.0</text>
<text transform="translate(319.20,324.01) scale(0.94,1)" text-anchor="end" font-size="8.7" font-weight="bold">1.5</text>
<text transform="translate(319.20,300.99) scale(0.94,1)" text-anchor="end" font-size="8.7" font-weight="bold">2.0</text>
<text transform="translate(319.20,277.98) scale(0.94,1)" text-anchor="end" font-size="8.7" font-weight="bold">2.5</text>
<text transform="translate(319.20,254.96) scale(0.94,1)" text-anchor="end" font-size="8.7" font-weight="bold">3.0</text>
<text transform="translate(319.20,231.95) scale(0.94,1)" text-anchor="end" font-size="8.7" font-weight="bold">3.5</text>
<line x1="340.00" y1="321.20" x2="340.00" y2="378.40" stroke="#111" stroke-width="1.3"/>
<line x1="337.75" y1="321.20" x2="342.25" y2="321.20" stroke="#111" stroke-width="1.5"/>
<line x1="337.75" y1="378.40" x2="342.25" y2="378.40" stroke="#111" stroke-width="1.5"/>
<circle cx="340.00" cy="360.00" r="3.5" fill="none" stroke="#111" stroke-width="1.3"/>
<line x1="361.80" y1="324.80" x2="361.80" y2="379.50" stroke="#111" stroke-width="1.3"/>
<line x1="359.55" y1="324.80" x2="364.05" y2="324.80" stroke="#111" stroke-width="1.5"/>
<line x1="359.55" y1="379.50" x2="364.05" y2="379.50" stroke="#111" stroke-width="1.5"/>
<path d="M361.80,367.20 L365.15,373.50 L358.45,373.50 Z" fill="none" stroke="#111" stroke-width="1.4"/>
<line x1="383.60" y1="344.00" x2="383.60" y2="381.10" stroke="#111" stroke-width="1.3"/>
<line x1="381.35" y1="344.00" x2="385.85" y2="344.00" stroke="#111" stroke-width="1.5"/>
<line x1="381.35" y1="381.10" x2="385.85" y2="381.10" stroke="#111" stroke-width="1.5"/>
<path d="M380.25,369.10 L386.95,369.10 L383.60,374.60 Z" fill="none" stroke="#111" stroke-width="1.4"/>
<line x1="422.00" y1="292.80" x2="422.00" y2="377.60" stroke="#111" stroke-width="1.3"/>
<line x1="419.75" y1="292.80" x2="424.25" y2="292.80" stroke="#111" stroke-width="1.5"/>
<line x1="419.75" y1="377.60" x2="424.25" y2="377.60" stroke="#111" stroke-width="1.5"/>
<circle cx="422.00" cy="356.80" r="3.5" fill="#111"/>
<line x1="443.90" y1="315.40" x2="443.90" y2="375.70" stroke="#111" stroke-width="1.3"/>
<line x1="441.65" y1="315.40" x2="446.15" y2="315.40" stroke="#111" stroke-width="1.5"/>
<line x1="441.65" y1="375.70" x2="446.15" y2="375.70" stroke="#111" stroke-width="1.5"/>
<path d="M443.90,358.80 L447.70,365.80 L440.10,365.80 Z" fill="#111"/>
<line x1="466.10" y1="346.50" x2="466.10" y2="378.90" stroke="#111" stroke-width="1.3"/>
<line x1="463.85" y1="346.50" x2="468.35" y2="346.50" stroke="#111" stroke-width="1.5"/>
<line x1="463.85" y1="378.90" x2="468.35" y2="378.90" stroke="#111" stroke-width="1.5"/>
<path d="M462.30,365.70 L469.90,365.70 L466.10,372.40 Z" fill="#111"/>
<line x1="504.30" y1="242.60" x2="504.30" y2="361.20" stroke="#868686" stroke-width="1.3"/>
<line x1="502.05" y1="242.60" x2="506.55" y2="242.60" stroke="#868686" stroke-width="1.5"/>
<line x1="502.05" y1="361.20" x2="506.55" y2="361.20" stroke="#868686" stroke-width="1.5"/>
<circle cx="504.30" cy="318.30" r="3.5" fill="none" stroke="#868686" stroke-width="1.3"/>
<line x1="526.10" y1="317.30" x2="526.10" y2="373.60" stroke="#868686" stroke-width="1.3"/>
<line x1="523.85" y1="317.30" x2="528.35" y2="317.30" stroke="#868686" stroke-width="1.5"/>
<line x1="523.85" y1="373.60" x2="528.35" y2="373.60" stroke="#868686" stroke-width="1.5"/>
<path d="M526.10,349.50 L529.45,355.70 L522.75,355.70 Z" fill="none" stroke="#868686" stroke-width="1.4"/>
<line x1="548.20" y1="313.50" x2="548.20" y2="374.70" stroke="#868686" stroke-width="1.3"/>
<line x1="545.95" y1="313.50" x2="550.45" y2="313.50" stroke="#868686" stroke-width="1.5"/>
<line x1="545.95" y1="374.70" x2="550.45" y2="374.70" stroke="#868686" stroke-width="1.5"/>
<path d="M544.85,362.90 L551.55,362.90 L548.20,368.70 Z" fill="none" stroke="#868686" stroke-width="1.4"/>
<text x="467.26" y="346.90" text-anchor="middle" font-size="10.5" font-weight="bold" style="stroke:none">*</text>
<text x="526.16" y="317.30" text-anchor="middle" font-size="10.5" font-weight="bold" style="stroke:none">*</text>
<text x="548.56" y="313.90" text-anchor="middle" font-size="10.5" font-weight="bold" style="stroke:none">*</text>
<text transform="translate(342.90,395.00) rotate(-90)" text-anchor="end" font-size="8.6" font-weight="bold" stroke="#111" stroke-width="0.3" letter-spacing="0.15">PSV<tspan font-size="6.4" dy="2.5" letter-spacing="0" style="stroke-width:0.1px">50</tspan></text>
<text transform="translate(364.70,395.00) rotate(-90)" text-anchor="end" font-size="8.6" font-weight="bold" stroke="#111" stroke-width="0.3" letter-spacing="0.15">NAVA<tspan font-size="6.4" dy="2.5" letter-spacing="0" style="stroke-width:0.1px">50</tspan></text>
<text transform="translate(386.50,395.00) rotate(-90)" text-anchor="end" font-size="8.6" font-weight="bold" stroke="#111" stroke-width="0.3" letter-spacing="0.15">PAV<tspan font-size="6.4" dy="2.5" letter-spacing="0" style="stroke-width:0.1px">50</tspan></text>
<text transform="translate(424.90,395.00) rotate(-90)" text-anchor="end" font-size="8.6" font-weight="bold" stroke="#111" stroke-width="0.3" letter-spacing="0.15">PSV<tspan font-size="6.4" dy="2.5" letter-spacing="0" style="stroke-width:0.1px">100</tspan></text>
<text transform="translate(446.80,395.00) rotate(-90)" text-anchor="end" font-size="8.6" font-weight="bold" stroke="#111" stroke-width="0.3" letter-spacing="0.15">NAVA<tspan font-size="6.4" dy="2.5" letter-spacing="0" style="stroke-width:0.1px">100</tspan></text>
<text transform="translate(469.00,395.00) rotate(-90)" text-anchor="end" font-size="8.6" font-weight="bold" stroke="#111" stroke-width="0.3" letter-spacing="0.15">PAV<tspan font-size="6.4" dy="2.5" letter-spacing="0" style="stroke-width:0.1px">100</tspan></text>
<text transform="translate(507.20,395.00) rotate(-90)" text-anchor="end" font-size="8.6" font-weight="bold" stroke="#111" stroke-width="0.3" letter-spacing="0.15">PSV<tspan font-size="6.4" dy="2.5" letter-spacing="0" style="stroke-width:0.1px">150</tspan></text>
<text transform="translate(529.00,395.00) rotate(-90)" text-anchor="end" font-size="8.6" font-weight="bold" stroke="#111" stroke-width="0.3" letter-spacing="0.15">NAVA<tspan font-size="6.4" dy="2.5" letter-spacing="0" style="stroke-width:0.1px">150</tspan></text>
<text transform="translate(551.10,395.00) rotate(-90)" text-anchor="end" font-size="8.6" font-weight="bold" stroke="#111" stroke-width="0.3" letter-spacing="0.15">PAV<tspan font-size="6.4" dy="2.5" letter-spacing="0" style="stroke-width:0.1px">150</tspan></text>
<text transform="translate(12.20,111.40) rotate(-90)" font-size="9.65" font-weight="bold">RR (n.min<tspan font-size="6.5" dy="-5.2">-1</tspan><tspan dy="5.2">)</tspan></text>
<text transform="translate(304.80,113.60) rotate(-90)" font-size="9.7" font-weight="bold">V<tspan font-size="8">T</tspan> (ml.kg<tspan font-size="6.5" dy="-4.5">-1</tspan><tspan dy="4.5">)</tspan></text>
<text transform="translate(12.20,341.00) rotate(-90)" font-size="9.6" font-weight="bold">EAdi<tspan font-size="7.2" dy="2.8" letter-spacing="0.8" font-weight="normal">max</tspan><tspan dy="-2.8"> (µV)</tspan></text>
<text transform="translate(300.60,370.20) rotate(-90)" font-size="9.5" font-weight="bold">V<tspan font-size="8">T</tspan> / EAdi<tspan font-size="7.2" dy="2.6" letter-spacing="1.0" font-weight="normal">max</tspan><tspan dy="-2.6">/ (mL.kg</tspan><tspan font-size="6.0" dy="-3.3">-1</tspan><tspan dy="3.3">.µV</tspan><tspan font-size="6.0" dy="-3.3">-1</tspan><tspan dy="3.3">)</tspan></text>
</svg>
</body></html>
